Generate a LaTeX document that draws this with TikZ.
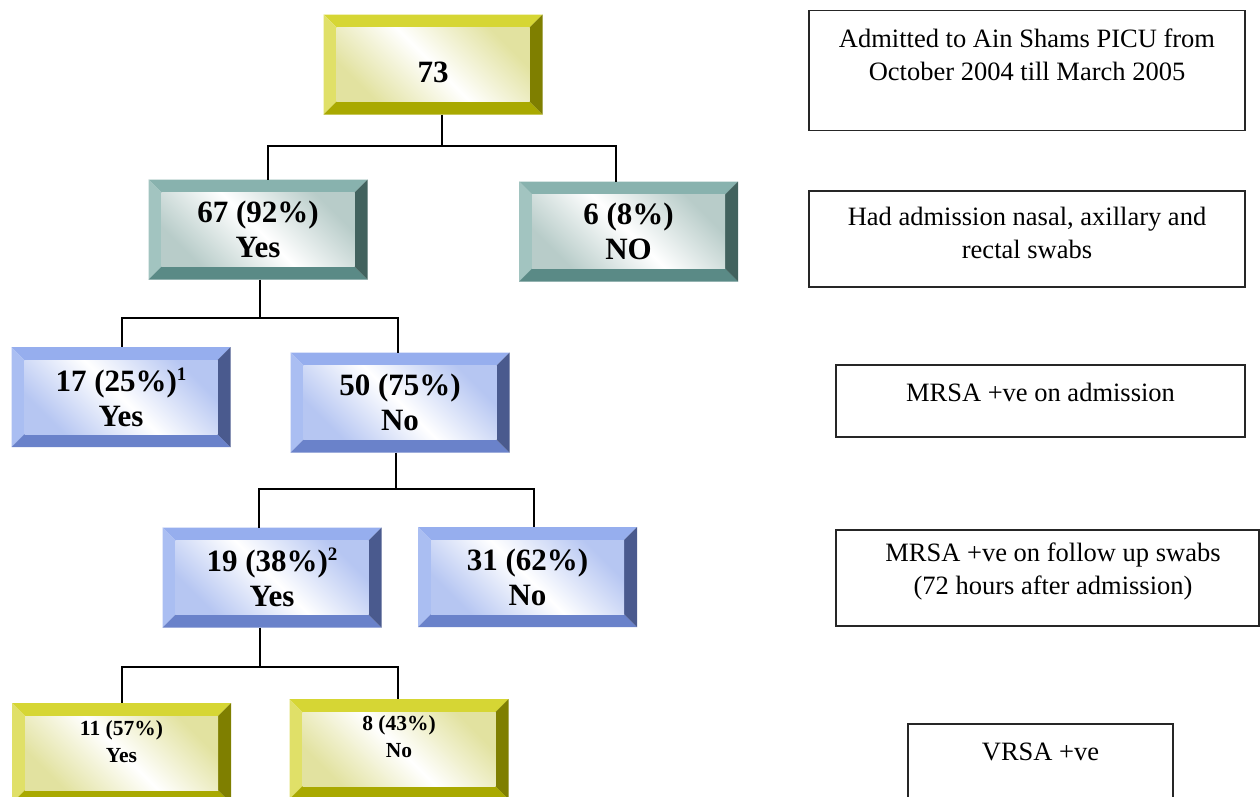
\documentclass[tikz,border=0pt]{standalone}
\usepackage{fontspec}
\setmainfont{Liberation Serif}
\usetikzlibrary{calc}
\definecolor{yT}{HTML}{D6D634}\definecolor{yL}{HTML}{E0E068}\definecolor{yB}{HTML}{A9A900}\definecolor{yR}{HTML}{7F7F00}\definecolor{yI}{HTML}{E2E2A0}
\definecolor{tT}{HTML}{88B2AE}\definecolor{tL}{HTML}{A2C4C0}\definecolor{tB}{HTML}{5A8A86}\definecolor{tR}{HTML}{42625E}\definecolor{tI}{HTML}{B8CCC9}
\definecolor{bT}{HTML}{96AEEE}\definecolor{bL}{HTML}{AABEF2}\definecolor{bB}{HTML}{6A82CA}\definecolor{bR}{HTML}{4A5A8E}\definecolor{bI}{HTML}{B6C6F2}
\newcommand{\supnum}[1]{\raisebox{11pt}{\fontsize{19}{19}\selectfont #1}}
\begin{document}
\begin{tikzpicture}[x=1pt,y=-1pt,
  bevel/.style n args={5}{rectangle, minimum width=219pt, minimum height=100pt, inner sep=0pt, outer sep=0pt,
    fill=white, align=center, font=\bfseries\fontsize{31}{35}\selectfont,
    path picture={
      \path (path picture bounding box.north west) coordinate (pNW)
            (path picture bounding box.south east) coordinate (pSE)
            (path picture bounding box.north east) coordinate (pNE)
            (path picture bounding box.south west) coordinate (pSW);
      \fill[#1] (pNW) -- (pNE) -- ([shift={(-13pt,-13pt)}]pNE) -- ([shift={(13pt,-13pt)}]pNW) -- cycle;
      \fill[#2] (pNW) -- ([shift={(13pt,-13pt)}]pNW) -- ([shift={(13pt,13pt)}]pSW) -- (pSW) -- cycle;
      \fill[#3] (pSW) -- ([shift={(13pt,13pt)}]pSW) -- ([shift={(-13pt,13pt)}]pSE) -- (pSE) -- cycle;
      \fill[#4] (pNE) -- (pSE) -- ([shift={(-13pt,13pt)}]pSE) -- ([shift={(-13pt,-13pt)}]pNE) -- cycle;
      \shade[left color=#5, right color=#5, middle color=white, shading angle=135]
        ([shift={(13pt,-13pt)}]pNW) rectangle ([shift={(-13pt,13pt)}]pSE);
    }},
  ybox/.style={bevel={yT}{yL}{yB}{yR}{yI}},
  tbox/.style={bevel={tT}{tL}{tB}{tR}{tI}},
  bbox/.style={bevel={bT}{bL}{bB}{bR}{bI}},
  small/.style={align=center, font=\bfseries\fontsize{21.5}{27}\selectfont},
  big/.style={align=center, font=\bfseries\fontsize{31}{35}\selectfont},
  rbox/.style={draw=black!85, line width=1.3pt, fill=white, rectangle, inner sep=0pt},
  rtext/.style={align=center, font=\fontsize{26.5}{33}\selectfont},
  conn/.style={draw=black, line width=1.6pt}
]
\useasboundingbox (0,0) rectangle (1260,796);
\clip (0,0) rectangle (1260,796);

% tree boxes
\node[ybox, label={[big, yshift=-7.5pt]center:73}] (n73) at (433,64.5) {};
\node[tbox] (n67) at (258,229.5) {67 (92\%)\\Yes};
\node[tbox] (n6) at (628.5,231.5) {6 (8\%)\\NO};
\node[bbox] (n17) at (121,397) {17 (25\%)\supnum{1}\\Yes};
\node[bbox] (n50) at (400,402.5) {50 (75\%)\\No};
\node[bbox] (n19) at (272,577.5) {19 (38\%)\supnum{2}\\Yes};
\node[bbox] (n31) at (527.5,577) {31 (62\%)\\No};
\node[ybox, label={[small, yshift=11.5pt]center:{11 (57\%)\\Yes}}] (n11) at (121.5,753) {};
\node[ybox, label={[small, yshift=12pt]center:{8 (43\%)\\No}}] (n8) at (399,749) {};

% connectors
\coordinate (j1) at (442,146);
\coordinate (j2) at (260,318);
\coordinate (j3) at (396,489);
\coordinate (j4) at (260,667);
\draw[conn] ([xshift=9pt]n73.south) -- (j1) -| ([xshift=10pt]n67.north);
\draw[conn] (j1) -| ([xshift=-12.5pt]n6.north);
\draw[conn] ([xshift=2pt]n67.south) -- (j2) -| ([xshift=1pt]n17.north);
\draw[conn] (j2) -| ([xshift=-2pt]n50.north);
\draw[conn] ([xshift=-4pt]n50.south) -- (j3) -| ([xshift=-13pt]n19.north);
\draw[conn] (j3) -| ([xshift=6.5pt]n31.north);
\draw[conn] ([xshift=-12pt]n19.south) -- (j4) -| ([xshift=0.5pt]n11.north);
\draw[conn] (j4) -| ([xshift=-1pt]n8.north);

% right-hand legend boxes
\node[rbox, minimum width=436pt, minimum height=120pt,
  label={[rtext, yshift=16pt]center:{Admitted to Ain Shams PICU from\\October 2004 till March 2005}}] (r1) at (1027,70.5) {};
\node[rbox, minimum width=436pt, minimum height=96pt,
  label={[rtext, yshift=6pt]center:{Had admission nasal, axillary and\\rectal swabs}}] (r2) at (1027,239) {};
\node[rbox, minimum width=409pt, minimum height=72pt,
  label={[rtext, yshift=9pt]center:{MRSA +ve on admission}}] (r3) at (1040.5,401) {};
\node[rbox, minimum width=423pt, minimum height=96pt,
  label={[rtext, yshift=7pt, xshift=5.5pt]center:{MRSA +ve on follow up swabs\\(72 hours after admission)}}] (r4) at (1047.5,578) {};
\node[rbox, minimum width=265pt, minimum height=100pt,
  label={[rtext, yshift=22pt]center:{VRSA +ve}}] (r5) at (1040.5,774) {};
\end{tikzpicture}
\end{document}
